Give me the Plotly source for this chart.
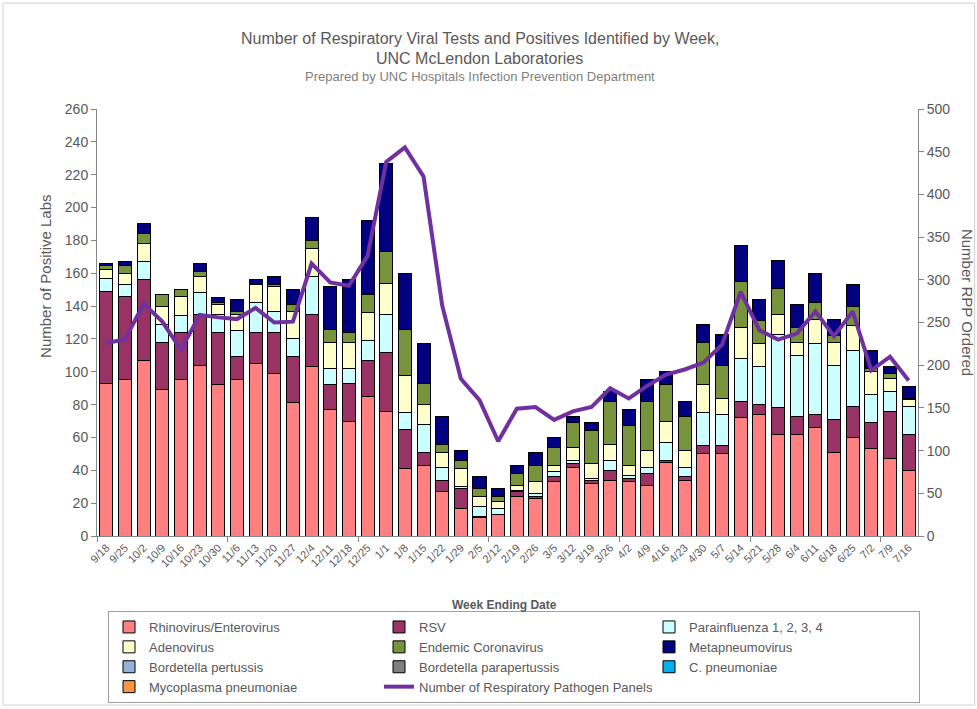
import plotly.graph_objects as go

weeks = ["9/18", "9/25", "10/2", "10/9", "10/16", "10/23", "10/30", "11/6", "11/13", "11/20",
         "11/27", "12/4", "12/11", "12/18", "12/25", "1/1", "1/8", "1/15", "1/22", "1/29",
         "2/5", "2/12", "2/19", "2/26", "3/5", "3/12", "3/19", "3/26", "4/2", "4/9",
         "4/16", "4/23", "4/30", "5/7", "5/14", "5/21", "5/28", "6/4", "6/11", "6/18",
         "6/25", "7/2", "7/9", "7/16"]

rhino = [93, 95, 107, 89, 95, 104, 92, 95, 105, 99,
         81, 103, 77, 70, 85, 76, 41, 43, 27, 17,
         11, 13, 24, 23, 33, 42, 32, 34, 33, 31,
         45, 34, 50, 50, 72, 74, 62, 62, 66, 51,
         60, 53, 47, 40]
rsv = [56, 51, 49, 29, 29, 31, 32, 14, 19, 25,
       28, 32, 15, 23, 22, 36, 24, 8, 7, 12,
       1, 0, 3, 1, 3, 2, 2, 6, 2, 7,
       1, 2, 5, 5, 10, 6, 16, 11, 8, 20,
       19, 16, 29, 22]
para = [8, 7, 11, 11, 10, 13, 11, 16, 18, 13,
        11, 23, 10, 9, 12, 23, 10, 17, 8, 1,
        6, 4, 1, 2, 3, 2, 1, 6, 2, 4,
        11, 6, 20, 19, 26, 23, 45, 37, 43, 33,
        34, 17, 12, 17]
adeno = [5, 7, 11, 11, 12, 10, 6, 10, 11, 15,
         17, 17, 16, 16, 17, 19, 23, 12, 9, 11,
         6, 4, 3, 7, 4, 8, 9, 10, 6, 10,
         13, 10, 17, 10, 19, 14, 12, 8, 15, 14,
         15, 14, 8, 4]
corona = [3, 5, 6, 7, 4, 3, 1, 2, 1, 1,
          4, 5, 8, 6, 11, 19, 28, 13, 5, 5,
          5, 3, 7, 10, 11, 15, 20, 26, 24, 30,
          22, 21, 26, 20, 28, 14, 16, 9, 10, 4,
          12, 2, 3, 1]
metap = [1, 2, 6, 0, 0, 5, 3, 7, 2, 5,
         9, 14, 26, 32, 45, 54, 34, 24, 17, 6,
         7, 5, 5, 8, 6, 4, 5, 6, 10, 13,
         8, 9, 11, 18, 22, 13, 17, 14, 18, 10,
         13, 11, 4, 7]
b_pertussis = [0] * 44
b_parapertussis = [0] * 44
c_pneumoniae = [0] * 33 + [1] + [0] * 10
mycoplasma = [0] * 44

rpp_panels = [226, 230, 272, 251, 218, 259, 256, 254, 267, 250,
              251, 319, 297, 293, 328, 438, 455, 421, 270, 184,
              159, 111, 149, 151, 136, 146, 151, 173, 161, 176,
              189, 195, 203, 224, 286, 241, 230, 237, 263, 234,
              263, 194, 210, 182]

series = [
    ("Rhinovirus/Enterovirus", rhino, "#FF8080"),
    ("RSV", rsv, "#993366"),
    ("Parainfluenza 1, 2, 3, 4", para, "#CCFFFF"),
    ("Adenovirus", adeno, "#FFFFCC"),
    ("Endemic Coronavirus", corona, "#77933C"),
    ("Metapneumovirus", metap, "#000080"),
    ("Bordetella pertussis", b_pertussis, "#95B3D7"),
    ("Bordetella parapertussis", b_parapertussis, "#808080"),
    ("C. pneumoniae", c_pneumoniae, "#00B0F0"),
    ("Mycoplasma pneumoniae", mycoplasma, "#F79646"),
]

idx = list(range(len(weeks)))
gray = "#595959"
axis_gray = "#868686"
font_main = "Liberation Sans, Arial, sans-serif"
font_narrow = "Liberation Sans Narrow, Arial Narrow, Liberation Sans, Arial, sans-serif"

fig = go.Figure()
for name, vals, color in series:
    fig.add_trace(go.Bar(
        x=idx, y=[v if v else None for v in vals], name=name,
        marker=dict(color=color, line=dict(color="#000000", width=1)),
        width=0.7, yaxis="y",
    ))

fig.add_trace(go.Scatter(
    x=idx, y=rpp_panels, name="Number of Respiratory Pathogen Panels",
    mode="lines", line=dict(color="#7030A0", width=4), yaxis="y2",
))

fig.update_layout(
    width=977, height=709,
    margin=dict(l=97, r=59, t=109, b=173, autoexpand=False),
    paper_bgcolor="white", plot_bgcolor="white",
    barmode="stack",
    font=dict(family=font_main, color=gray),
    showlegend=True,
    xaxis=dict(
        range=[-0.5, 43.5], tickmode="array", tickvals=idx, ticktext=weeks,
        tickangle=-45, ticks="", tickfont=dict(size=11, color=gray, family=font_narrow),
        showline=True, linecolor=axis_gray, linewidth=1, showgrid=False, zeroline=False,
        automargin=False,
        minor=dict(tickmode="linear", tick0=-0.5, dtick=7, ticks="outside",
                   ticklen=5, tickcolor=axis_gray, showgrid=False),
    ),
    yaxis=dict(
        range=[0, 260], dtick=20, ticks="outside", ticklen=5, tickcolor=axis_gray,
        showline=True, linecolor=axis_gray, linewidth=1, showgrid=False, zeroline=False,
        tickfont=dict(size=14, color=gray), automargin=False,
    ),
    yaxis2=dict(
        range=[0, 500], dtick=50, overlaying="y", side="right", ticks="outside",
        ticklen=5, tickcolor=axis_gray, showline=True, linecolor=axis_gray, linewidth=1,
        showgrid=False, zeroline=False, tickfont=dict(size=14, color=gray), automargin=False,
    ),
    legend=dict(
        orientation="h", xref="container", yref="container",
        x=108 / 977, y=1 - 611 / 709, xanchor="left", yanchor="top",
        traceorder="normal", entrywidth=225, entrywidthmode="pixels",
        bordercolor="#A0A0A0", borderwidth=1, itemwidth=30,
        font=dict(size=13, color=gray, family=font_narrow),
    ),
    annotations=[
        dict(text="Number of Respiratory Viral Tests and Positives Identified by Week,",
             xref="paper", yref="paper", x=0.4665, y=1.166, showarrow=False,
             xanchor="center", yanchor="middle", font=dict(size=16, color=gray)),
        dict(text="UNC McLendon Laboratories",
             xref="paper", yref="paper", x=0.4665, y=1.119, showarrow=False,
             xanchor="center", yanchor="middle", font=dict(size=16, color=gray)),
        dict(text="Prepared by UNC Hospitals Infection Prevention Department",
             xref="paper", yref="paper", x=0.4665, y=1.075, showarrow=False,
             xanchor="center", yanchor="middle", font=dict(size=13, color="#808080")),
        dict(text="Number of Positive Labs", xref="paper", yref="paper",
             x=-0.062, y=0.607, showarrow=False, textangle=-90,
             xanchor="center", yanchor="middle", font=dict(size=15, color=gray)),
        dict(text="Number RPP Ordered", xref="paper", yref="paper",
             x=1.061, y=0.548, showarrow=False, textangle=90,
             xanchor="center", yanchor="middle", font=dict(size=15, color=gray)),
        dict(text="<b>Week Ending Date</b>", xref="paper", yref="paper",
             x=0.496, y=-0.1616, showarrow=False,
             xanchor="center", yanchor="middle", font=dict(size=12, color=gray, family=font_narrow)),
    ],
    shapes=[
        dict(type="rect", xref="paper", yref="paper", x0=-0.1145, x1=1.069,
             y0=-0.396, y1=1.248, line=dict(color="#D0D0D0", width=1), layer="below"),
    ],
)

fig.write_html("out.html", config={"displayModeBar": False},
               post_script="document.body.style.margin='0';")
